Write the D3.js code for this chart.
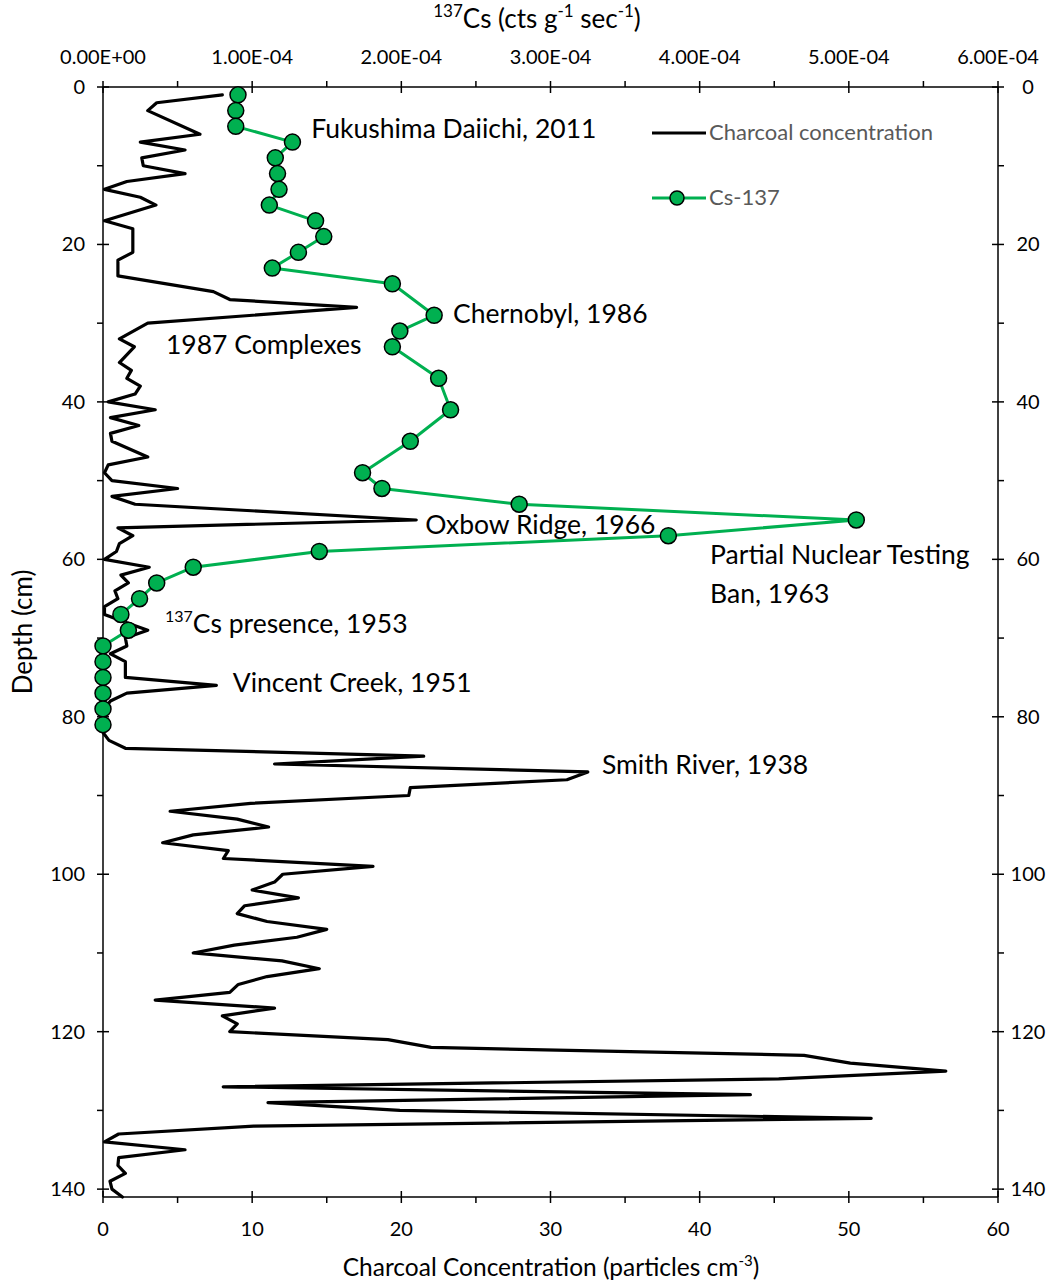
<!DOCTYPE html>
<html>
<head>
<meta charset="utf-8">
<script src="https://cdn.jsdelivr.net/npm/d3@7"></script>
<style>
  html, body { margin: 0; padding: 0; background: #fff; }
  svg { display: block; font-family: Lato, "Open Sans", sans-serif; }
</style>
</head>
<body>
<svg id="chart" width="1064" height="1283"></svg>
<script>
// Charcoal concentration profile (particles cm^-3) by depth (cm)
const charcoalDepth = [1, 2, 3, 6, 7, 8, 9, 10, 11, 12, 13, 14, 15, 16, 17, 18, 21, 22, 24, 26, 27, 28, 30,
  32, 33, 35, 36, 37, 38, 39, 40, 41, 42, 43, 44, 45, 47, 48, 49, 50, 51, 52, 53, 55, 56, 57, 58, 59, 60,
  61, 62, 63, 64, 65, 66, 67, 68, 69, 70, 71, 72, 73, 75, 76, 77, 78, 79, 82, 83, 84,
  85, 86, 87, 88, 89, 90, 91, 92, 93, 94, 95, 96, 97, 98, 99, 100, 101, 102, 103, 104, 105, 106, 107, 108, 109, 110,
  111, 112, 113, 114, 115, 116, 117, 118, 119, 120, 121, 122, 123, 124, 125, 126, 127, 128, 129, 130,
  131, 132, 133, 134, 135, 136, 137, 138, 139, 140, 141];
const charcoalValue = [8.0, 3.6, 3.0, 6.5, 2.5, 5.5, 2.6, 2.7, 5.5, 1.6, 0.1, 2.5, 3.55, 1.8, 0.1, 2.0, 2.0, 1.0, 1.0, 7.4, 8.5, 17.0, 3.0,
  1.1, 2.1, 1.1, 1.9, 1.6, 2.5, 2.15, 0.35, 3.5, 0.5, 2.4, 0.5, 0.6, 3.0, 0.35, 0.1, 0.6, 5.0, 0.6, 2.15, 21.0, 1.0, 2.0, 1.1, 0.9, 0.1,
  3.1, 1.2, 1.7, 0.8, 1.0, 0.1, 0.1, 1.5, 3.0, 1.5, 1.6, 0.5, 1.5, 1.5, 7.6, 1.6, 0.5, 0.1, 0.0, 0.4, 1.5,
  21.5, 11.5, 32.5, 31.1, 20.6, 20.5, 9.9, 4.5, 9.0, 11.1, 6.05, 4.0, 8.4, 8.07, 18.1, 12.05, 11.5, 10.0, 13.1, 9.5, 9.0, 11.0, 15.0, 13.0, 8.8, 6.05,
  12.0, 14.5, 11.0, 9.07, 8.5, 3.5, 11.5, 8.0, 9.0, 8.5, 19.1, 22.0, 47.0, 50.1, 56.5, 45.3, 8.06, 43.4, 11.06, 19.9,
  51.5, 10.1, 1.05, 0.1, 5.5, 1.05, 1.0, 1.5, 0.47, 0.6, 1.3];

// 137Cs activity (cts g^-1 sec^-1) by depth (cm)
const csDepth = [1, 3, 5, 7, 9, 11, 13, 15, 17, 19, 21, 23, 25, 29, 31, 33, 37, 41, 45, 49, 51, 53, 55, 57, 59,
  61, 63, 65, 67, 69, 71, 73, 75, 77, 79, 81];
const csValue = [0.905e-4, 0.89e-4, 0.89e-4, 1.27e-4, 1.155e-4, 1.17e-4, 1.18e-4, 1.115e-4, 1.425e-4, 1.48e-4, 1.31e-4, 1.135e-4,
  1.94e-4, 2.22e-4, 1.99e-4, 1.94e-4, 2.25e-4, 2.33e-4, 2.06e-4, 1.74e-4, 1.87e-4, 2.79e-4, 5.05e-4, 3.79e-4, 1.45e-4,
  0.605e-4, 0.36e-4, 0.245e-4, 0.12e-4, 0.17e-4, 0, 0, 0, 0, 0, 0];

// Axis ticks
const charcoalTicks = [0, 10, 20, 30, 40, 50, 60];
const csTicks = [0, 1e-4, 2e-4, 3e-4, 4e-4, 5e-4, 6e-4];
const csTickLabels = ["0.00E+00", "1.00E-04", "2.00E-04", "3.00E-04", "4.00E-04", "5.00E-04", "6.00E-04"];
const depthTicks = [0, 20, 40, 60, 80, 100, 120, 140];

// Event annotations: label, depth of baseline, charcoal-axis x position
const eventLabels = ["Fukushima Daiichi, 2011", "Chernobyl, 1986", "1987 Complexes", "Oxbow Ridge, 1966",
  "Partial Nuclear Testing", "Ban, 1963", "presence, 1953", "Vincent Creek, 1951", "Smith River, 1938"];
const eventDepth = [6.5, 30.0, 33.86, 56.72, 60.53, 65.49, 69.4, 76.79, 87.21];
const eventX = [13.96, 23.46, 4.22, 21.6, 40.7, 40.7, 4.15, 8.7, 33.45];

const svg = d3.select("#chart");
const mLeft = 103, mRight = 998, mTop = 87, mBottom = 1197;

const x = d3.scaleLinear().domain([0, 60]).range([mLeft, mRight]);
const xCs = d3.scaleLinear().domain([0, 6e-4]).range([mLeft, mRight]);
const y = d3.scaleLinear().domain([0, 141]).range([mTop, mBottom]);

const green = "#00B050";
const tickFont = 20;

// ---- frame / axes ----
const axisG = svg.append("g").attr("stroke", "#000").attr("stroke-width", 1.5);
axisG.append("line").attr("x1", mLeft).attr("x2", mRight).attr("y1", mTop).attr("y2", mTop);
axisG.append("line").attr("x1", mLeft).attr("x2", mRight).attr("y1", mBottom).attr("y2", mBottom);
axisG.append("line").attr("x1", mLeft).attr("x2", mLeft).attr("y1", mTop).attr("y2", mBottom);
axisG.append("line").attr("x1", mRight).attr("x2", mRight).attr("y1", mTop).attr("y2", mBottom);

// bottom axis ticks: majors cross the line, minors sit outside
d3.range(0, 61, 5).forEach(v => {
  const major = v % 10 === 0;
  axisG.append("line").attr("x1", x(v)).attr("x2", x(v))
    .attr("y1", major ? mBottom - 6 : mBottom).attr("y2", mBottom + 6);
});
// top axis ticks
d3.range(0, 13).forEach(i => {
  const v = i * 0.5e-4;
  const major = i % 2 === 0;
  axisG.append("line").attr("x1", xCs(v)).attr("x2", xCs(v))
    .attr("y1", mTop - 6).attr("y2", major ? mTop + 6 : mTop);
});
// left / right depth ticks
d3.range(0, 141, 10).forEach(v => {
  const major = v % 20 === 0;
  axisG.append("line").attr("x1", mLeft - 6).attr("x2", major ? mLeft + 6 : mLeft)
    .attr("y1", y(v)).attr("y2", y(v));
  axisG.append("line").attr("x1", major ? mRight - 6 : mRight).attr("x2", mRight + 6)
    .attr("y1", y(v)).attr("y2", y(v));
});

// tick labels
svg.append("g").selectAll("text").data(charcoalTicks).join("text")
  .attr("x", d => x(d)).attr("y", 1236).attr("text-anchor", "middle")
  .attr("font-size", tickFont).text(d => d);
svg.append("g").selectAll("text").data(csTicks).join("text")
  .attr("x", d => xCs(d)).attr("y", 64).attr("text-anchor", "middle")
  .attr("font-size", tickFont).text((d, i) => csTickLabels[i]);
svg.append("g").selectAll("text").data(depthTicks).join("text")
  .attr("x", 85).attr("y", d => y(d) + 7).attr("text-anchor", "end")
  .attr("font-size", tickFont).text(d => d);
svg.append("g").selectAll("text").data(depthTicks).join("text")
  .attr("x", 1028).attr("y", d => y(d) + 7).attr("text-anchor", "middle")
  .attr("font-size", tickFont).text(d => d);

// axis titles
const bt = svg.append("text").attr("x", 551).attr("y", 1276).attr("text-anchor", "middle").attr("font-size", 24.5);
bt.append("tspan").text("Charcoal Concentration (particles cm");
bt.append("tspan").attr("font-size", 15).attr("dy", -10).text("-3");
bt.append("tspan").attr("dy", 10).text(")");

const tt = svg.append("text").attr("x", 537).attr("y", 28).attr("text-anchor", "middle").attr("font-size", 26);
tt.append("tspan").attr("font-size", 17).attr("dy", -11).text("137");
tt.append("tspan").attr("dy", 11).text("Cs (cts g");
tt.append("tspan").attr("font-size", 17).attr("dy", -11).text("-1");
tt.append("tspan").attr("dy", 11).text(" sec");
tt.append("tspan").attr("font-size", 17).attr("dy", -11).text("-1");
tt.append("tspan").attr("dy", 11).text(")");

svg.append("text").attr("transform", `translate(32,632) rotate(-90)`)
  .attr("text-anchor", "middle").attr("font-size", 26).text("Depth (cm)");

// ---- charcoal line ----
const charcoal = charcoalDepth.map((d, i) => ({ depth: d, value: charcoalValue[i] }));
svg.append("path").datum(charcoal)
  .attr("fill", "none").attr("stroke", "#000").attr("stroke-width", 3.2)
  .attr("stroke-linejoin", "round").attr("stroke-linecap", "round")
  .attr("d", d3.line().x(d => x(d.value)).y(d => y(d.depth)));

// ---- Cs-137 line + markers ----
const cs = csDepth.map((d, i) => ({ depth: d, value: csValue[i] }));
svg.append("path").datum(cs)
  .attr("fill", "none").attr("stroke", green).attr("stroke-width", 3)
  .attr("stroke-linejoin", "round")
  .attr("d", d3.line().x(d => xCs(d.value)).y(d => y(d.depth)));
svg.append("g").selectAll("circle").data(cs).join("circle")
  .attr("cx", d => xCs(d.value)).attr("cy", d => y(d.depth)).attr("r", 8)
  .attr("fill", green).attr("stroke", "#000").attr("stroke-width", 1.5);

// ---- event annotations ----
const ann = svg.append("g").attr("font-size", 26.5).attr("fill", "#000");
eventLabels.forEach((label, i) => {
  const t = ann.append("text").attr("x", x(eventX[i])).attr("y", y(eventDepth[i]));
  if (label === "presence, 1953") {
    t.append("tspan").attr("font-size", 16).attr("dy", -11).text("137");
    t.append("tspan").attr("dy", 11).text("Cs " + label);
  } else {
    t.text(label);
  }
});

// ---- legend ----
const lg = svg.append("g");
lg.append("line").attr("x1", 652).attr("x2", 706).attr("y1", 133).attr("y2", 133)
  .attr("stroke", "#000").attr("stroke-width", 3.2);
lg.append("text").attr("x", 709).attr("y", 140).attr("font-size", 22).attr("fill", "#595959")
  .text("Charcoal concentration");
lg.append("line").attr("x1", 652).attr("x2", 706).attr("y1", 198).attr("y2", 198)
  .attr("stroke", green).attr("stroke-width", 3);
lg.append("circle").attr("cx", 677).attr("cy", 198).attr("r", 7)
  .attr("fill", green).attr("stroke", "#000").attr("stroke-width", 1.5);
lg.append("text").attr("x", 709).attr("y", 205).attr("font-size", 22).attr("fill", "#595959")
  .text("Cs-137");
</script>
</body>
</html>
